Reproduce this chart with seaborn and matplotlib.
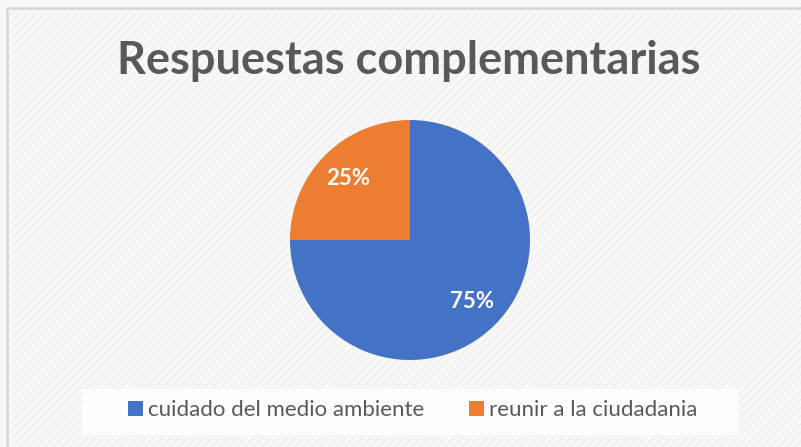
import seaborn as sns
import matplotlib.pyplot as plt
from matplotlib.patches import Rectangle

# data
categorias = ["cuidado del medio ambiente", "reunir a la ciudadania"]
valores = [75, 25]
colores = ["#4472C4", "#ED7D31"]
titulo = "Respuestas complementarias"

sns.set_theme(style="white")
plt.rcParams['font.family'] = ['Lato', 'DejaVu Sans']

fig = plt.figure(figsize=(8.01, 4.47), dpi=100)
fig.patch.set_facecolor("#f7f7f7")

# hatched background like the excel chart area
bg = fig.add_axes([0, 0, 1, 1], zorder=-5)
bg.axis("off")
bg.set_xlim(0, 801)
bg.set_ylim(447, 0)
bg.add_patch(Rectangle((7, 7), 820, 460, facecolor="#f8f8f8", edgecolor="#efefef",
                       hatch="////", linewidth=0))
bg.add_patch(Rectangle((6.5, 7.5), 820, 460, facecolor="none", edgecolor="#d9d9d9", linewidth=2))
# legend box
bg.add_patch(Rectangle((82, 389), 656, 46, facecolor="#fdfdfd", edgecolor="none"))

fig.text(0.510, 0.863, titulo, ha="center", va="center", fontsize=32.5,
         fontweight="bold", color="#595959")

ax = fig.add_axes([(410 - 120) / 801, (447 - 360) / 447, 240 / 801, 240 / 447])
wedges, _, autotexts = ax.pie(valores, colors=colores, startangle=90, counterclock=False,
                              autopct="%1.0f%%", pctdistance=0.73, radius=1,
                              wedgeprops=dict(linewidth=0))
for t in autotexts:
    t.set_color("white")
    t.set_fontsize(16)
    t.set_fontweight("bold")
ax.set_xlim(-1, 1)
ax.set_ylim(-1, 1)
ax.set_aspect("equal")

leg = fig.legend(wedges, categorias, loc="center", bbox_to_anchor=(0.5155, 0.083), ncol=2,
                 frameon=False, fontsize=16, handlelength=0.65, handleheight=0.65,
                 handletextpad=0.25, columnspacing=2.0)
for t in leg.get_texts():
    t.set_color("#595959")

fig.savefig("out.png", dpi=100, facecolor=fig.get_facecolor())
